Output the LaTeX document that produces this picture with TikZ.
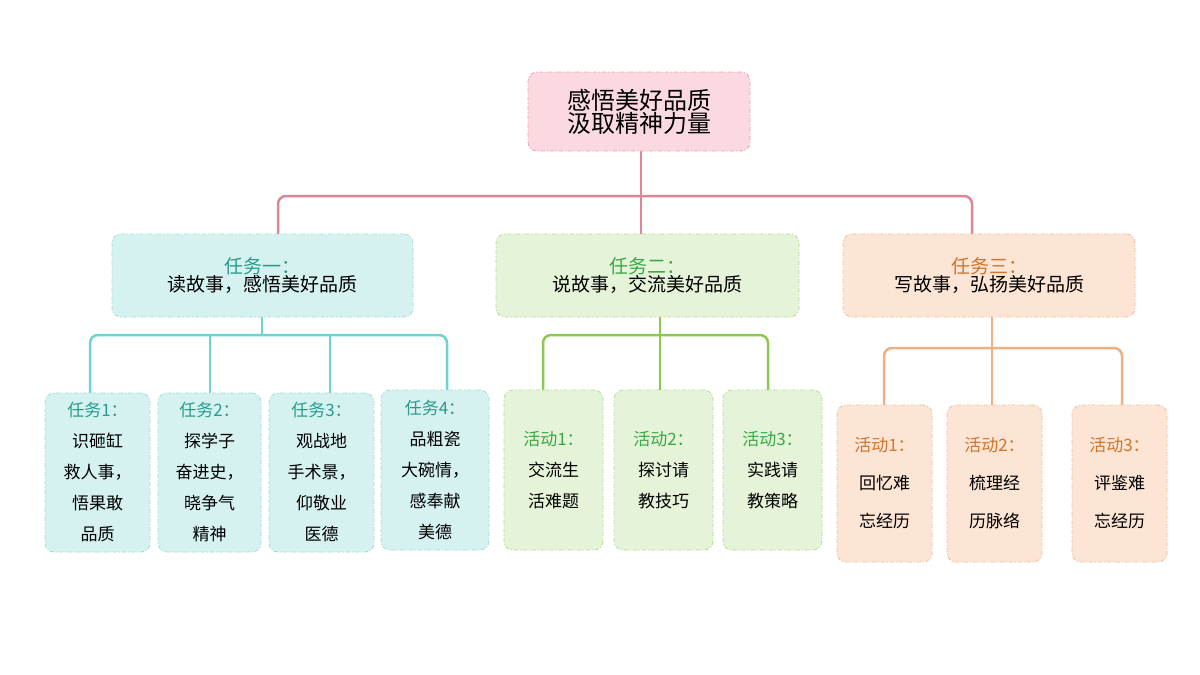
\documentclass[tikz,border=0pt]{standalone}
\usepackage{fontspec}
\setmainfont{Noto Sans CJK SC}
\usetikzlibrary{positioning}
\definecolor{pkf}{HTML}{FAD9E0}\definecolor{pkd}{HTML}{E8A3B0}\definecolor{pkl}{HTML}{DE8597}
\definecolor{cyf}{HTML}{D5F2F1}\definecolor{cyd}{HTML}{9EDDDA}\definecolor{cyl}{HTML}{6DD3CF}\definecolor{cyt}{HTML}{2A9A8C}
\definecolor{grf}{HTML}{E5F3D8}\definecolor{grd}{HTML}{B6DC94}\definecolor{grl}{HTML}{8CC94F}\definecolor{grt}{HTML}{3AA845}
\definecolor{orf}{HTML}{FCE5D4}\definecolor{ord}{HTML}{F1BE98}\definecolor{orl}{HTML}{EFB082}\definecolor{ort}{HTML}{D2742A}
\tikzset{
 bx/.style={draw, dash pattern=on 4pt off 2pt on 1pt off 2pt, line width=0.8pt, rounded corners=9pt, inner sep=0pt, align=center},
 ln/.style={line width=2.5pt, rounded corners=8pt},
}
\newcommand{\bxat}[7]{% name, x1,y1,x2,y2, style, text
 \node[bx,#6,minimum width={#4-#2}, minimum height={#5-#3}] (#1) at ({(#2+#4)/2},{(#3+#5)/2}) {#7};}
\begin{document}
\begin{tikzpicture}[x=1pt,y=-1pt]
\useasboundingbox[fill=white] (0,0) rectangle (1200,675);
% connectors
\draw[ln,pkl] (278,234) -- (278,196) -- (972,196) -- (972,234);
\draw[ln,pkl] (641,151) -- (641,234);
\draw[ln,cyl] (90,393) -- (90,335) -- (447,335) -- (447,390);
\draw[ln,cyl] (262,317) -- (262,335);
\draw[ln,cyl] (210,335) -- (210,393);
\draw[ln,cyl] (330,335) -- (330,393);
\draw[ln,grl] (543,390) -- (543,335) -- (768,335) -- (768,390);
\draw[ln,grl] (660,317) -- (660,390);
\draw[ln,orl] (884,405) -- (884,348) -- (1122,348) -- (1122,405);
\draw[ln,orl] (992,317) -- (992,405);
% nodes
\bxat{root}{528}{72}{750}{151}{draw=pkd,fill=pkf}{\fontsize{24}{32}\selectfont 感悟美好品质\\\fontsize{24}{32}\selectfont 汲取精神力量}
\bxat{ta}{112}{234}{413}{317}{draw=cyd,fill=cyf}{\fontsize{19}{34}\selectfont\color{cyt}任务一：\\\fontsize{19}{34}\selectfont 读故事，感悟美好品质}
\bxat{tb}{496}{234}{799}{317}{draw=grd,fill=grf}{\fontsize{19}{34}\selectfont\color{grt}任务二：\\\fontsize{19}{34}\selectfont 说故事，交流美好品质}
\bxat{tc}{843}{234}{1135}{317}{draw=ord,fill=orf}{\fontsize{19}{34}\selectfont\color{ort}任务三：\\\fontsize{19}{34}\selectfont 写故事，弘扬美好品质}
\tikzset{ct/.style={font=\fontsize{17}{31}\selectfont}}
\bxat{a1}{45}{393}{150}{552}{draw=cyd,fill=cyf,ct}{{\color{cyt}任务1：}\\识砸缸\\救人事，\\悟果敢\\品质\hspace{1em}}
\bxat{a2}{158}{393}{261}{552}{draw=cyd,fill=cyf,ct}{{\color{cyt}任务2：}\\探学子\\奋进史，\\晓争气\\精神\hspace{1em}}
\bxat{a3}{269}{393}{374}{552}{draw=cyd,fill=cyf,ct}{{\color{cyt}任务3：}\\观战地\\手术景，\\仰敬业\\医德\hspace{1em}}
\bxat{a4}{381}{390}{489}{550}{draw=cyd,fill=cyf,ct}{{\color{cyt}任务4：}\\品粗瓷\\大碗情，\\感奉献\\美德\hspace{1em}}
\bxat{b1}{504}{390}{603}{550}{draw=grd,fill=grf,ct}{{\color{grt}活动1：}\\交流生\\活难题}
\bxat{b2}{614}{390}{713}{550}{draw=grd,fill=grf,ct}{{\color{grt}活动2：}\\探讨请\\教技巧}
\bxat{b3}{723}{390}{822}{550}{draw=grd,fill=grf,ct}{{\color{grt}活动3：}\\实践请\\教策略}
\bxat{c1}{837}{405}{932}{562}{draw=ord,fill=orf,font=\fontsize{17}{38}\selectfont}{{\color{ort}活动1：}\\回忆难\\忘经历}
\bxat{c2}{947}{405}{1042}{562}{draw=ord,fill=orf,font=\fontsize{17}{38}\selectfont}{{\color{ort}活动2：}\\梳理经\\历脉络}
\bxat{c3}{1072}{405}{1167}{562}{draw=ord,fill=orf,font=\fontsize{17}{38}\selectfont}{{\color{ort}活动3：}\\评鉴难\\忘经历}
\end{tikzpicture}
\end{document}
